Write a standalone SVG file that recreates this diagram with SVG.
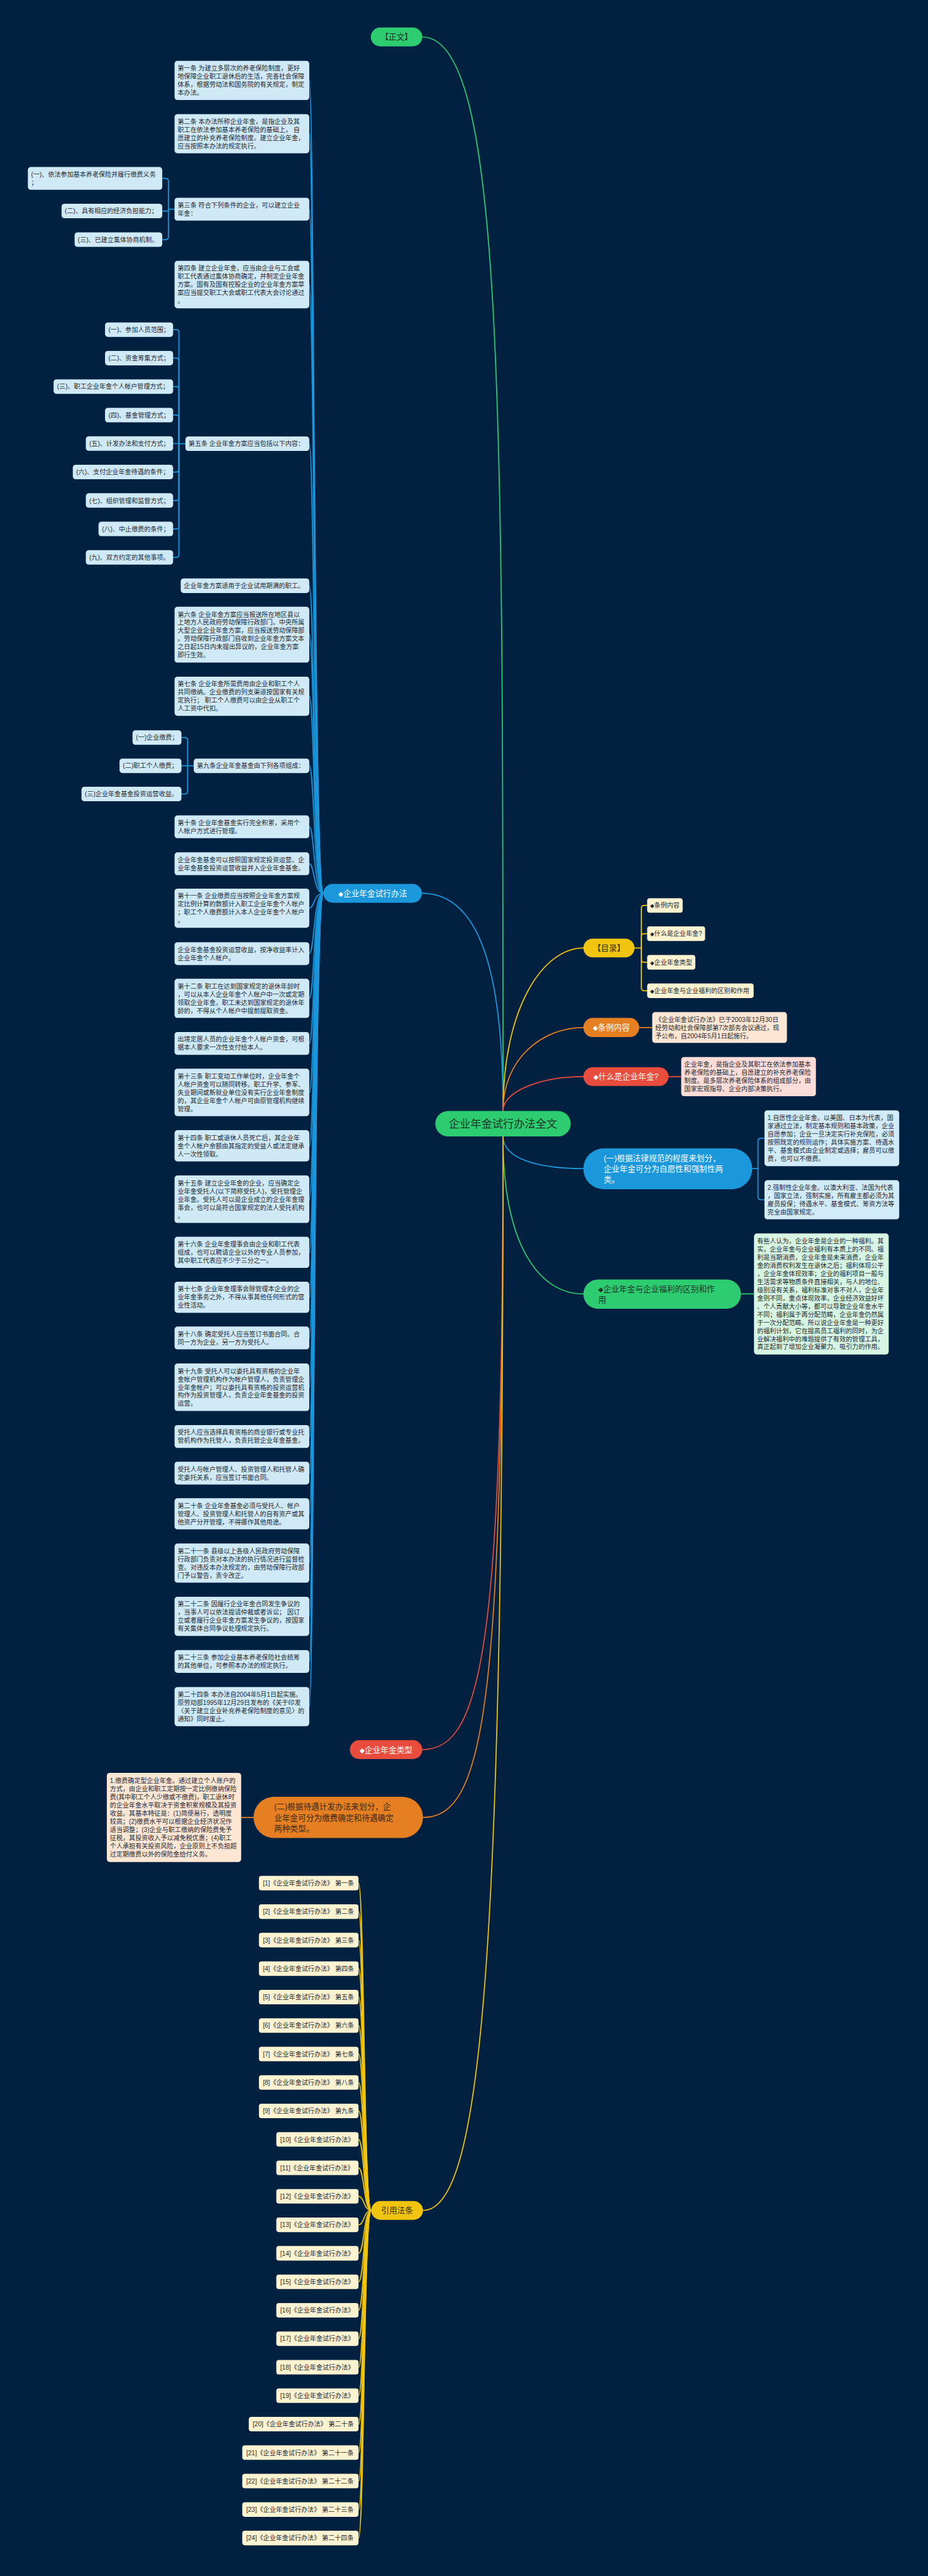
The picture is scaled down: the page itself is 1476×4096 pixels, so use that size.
<svg xmlns="http://www.w3.org/2000/svg" width="1476" height="4096" viewBox="0 0 1476 4096">
<defs>
<style>
.t{font-family:'Liberation Sans','Noto Sans CJK SC',sans-serif;font-size:17.5px;fill:#1f2933}
.dm{font-family:'DejaVu Sans',sans-serif;font-size:15px}
.ab{fill:#cfe9f7}
.cr{fill:#fdf3d1}
.pe{fill:#fde6d3}
.pk{fill:#fbdcd8}
.lg{fill:#d6f5e3}
.lb{fill:#d2ebf9}
.pt{font-family:'Liberation Sans','Noto Sans CJK SC',sans-serif;font-size:22px}
.c{fill:none;stroke-width:3;stroke-linecap:round;stroke-linejoin:round}
.cb{stroke:#1b97dc}
.cy{stroke:#f1c40f}
.co{stroke:#e67e22}
.cre{stroke:#e74c3c}
.cg{stroke:#2ecc71}
</style>
</defs>
<rect x="0" y="0" width="1476" height="4096" fill="#022140"/>
<g transform="scale(0.576)">

<g id="connectors">
<!-- main branches -->
<path class="c cg" d="M1389,3067 C1389,1100 1389,102 1166,102"/>
<path class="c cb" d="M1389,3067 C1389,2700 1330,2466 1165,2466"/>
<path class="c cy" d="M1389,3067 C1389,2780 1500,2617 1611,2617"/>
<path class="c co" d="M1389,3067 C1389,2920 1500,2836.5 1611,2836.5"/>
<path class="c cre" d="M1389,3067 C1389,3010 1500,2972 1611,2972"/>
<path class="c cb" d="M1389,3137 C1389,3200 1490,3226 1611,3226"/>
<path class="c cg" d="M1389,3137 C1389,3440 1490,3572 1611,3572"/>
<path class="c cre" d="M1389,3137 C1389,4550 1330,4830 1166,4830"/>
<path class="c co" d="M1389,3137 C1389,4700 1340,5017 1168,5017"/>
<path class="c cy" d="M1389,3137 C1389,5400 1330,6102 1168,6102"/>
<!-- left article connectors -->
<g class="c cb">
<path d="M893,2466 C866,2466 868,222 854,222"/>
<path d="M893,2466 C866,2466 868,369 854,369"/>
<path d="M893,2466 C866,2466 868,577.5 854,577.5"/>
<path d="M893,2466 C866,2466 868,785.5 854,785.5"/>
<path d="M893,2466 C866,2466 868,1225 854,1225"/>
<path d="M893,2466 C866,2466 868,1617 854,1617"/>
<path d="M893,2466 C866,2466 868,1752 854,1752"/>
<path d="M893,2466 C866,2466 868,1922 854,1922"/>
<path d="M893,2466 C866,2466 868,2114 854,2114"/>
<path d="M893,2466 C866,2466 868,2282.5 854,2282.5"/>
<path d="M893,2466 C866,2466 868,2384.5 854,2384.5"/>
<path d="M893,2466 C866,2466 868,2507 854,2507"/>
<path d="M893,2466 C866,2466 868,2632.5 854,2632.5"/>
<path d="M893,2466 C866,2466 868,2756 854,2756"/>
<path d="M893,2466 C866,2466 868,2880.5 854,2880.5"/>
<path d="M893,2466 C866,2466 868,3015.5 854,3015.5"/>
<path d="M893,2466 C866,2466 868,3163 854,3163"/>
<path d="M893,2466 C866,2466 868,3310.5 854,3310.5"/>
<path d="M893,2466 C866,2466 868,3457 854,3457"/>
<path d="M893,2466 C866,2466 868,3581 854,3581"/>
<path d="M893,2466 C866,2466 868,3693.5 854,3693.5"/>
<path d="M893,2466 C866,2466 868,3829.5 854,3829.5"/>
<path d="M893,2466 C866,2466 868,3965.5 854,3965.5"/>
<path d="M893,2466 C866,2466 868,4066.5 854,4066.5"/>
<path d="M893,2466 C866,2466 868,4179 854,4179"/>
<path d="M893,2466 C866,2466 868,4315 854,4315"/>
<path d="M893,2466 C866,2466 868,4462 854,4462"/>
<path d="M893,2466 C866,2466 868,4586.5 854,4586.5"/>
<path d="M893,2466 C866,2466 868,4711 854,4711"/>
<!-- article 3 bracket -->
<path d="M482,577.5 H465 V500.5 Q465,492.5 457,492.5 H448"/>
<path d="M465,577.5 V582.5 H448"/>
<path d="M465,577.5 V653.5 Q465,661.5 457,661.5 H448"/>
<!-- article 5 bracket -->
<path d="M512,1225 H494"/>
<path d="M494,1225 V918 Q494,910 486,910 H478"/>
<path d="M494,1225 V996.6 Q494,988.6 486,988.6 H478"/>
<path d="M494,1225 V1075.2 Q494,1067.2 486,1067.2 H478"/>
<path d="M494,1225 V1153.8 Q494,1145.8 486,1145.8 H478"/>
<path d="M494,1225 V1224.4 H478"/>
<path d="M494,1225 V1295 Q494,1303 486,1303 H478"/>
<path d="M494,1225 V1373.6 Q494,1381.6 486,1381.6 H478"/>
<path d="M494,1225 V1452.2 Q494,1460.2 486,1460.2 H478"/>
<path d="M494,1225 V1530.8 Q494,1538.8 486,1538.8 H478"/>
<!-- article 9 bracket -->
<path d="M535,2114 H501"/>
<path d="M518,2114 V2044 Q518,2036 510,2036 H501"/>
<path d="M518,2114 V2184 Q518,2192 510,2192 H501"/>
<!-- (一) blue bracket -->
<path d="M2077,3226 H2093 V3150 Q2093,3142 2101,3142 H2111"/>
<path d="M2093,3226 V3304 Q2093,3312 2101,3312 H2111"/>
</g>
<g class="c cy">
<path d="M1752,2617 H1771 V2507.5 Q1771,2499.5 1779,2499.5 H1787"/>
<path d="M1771,2617 V2585.5 Q1771,2577.5 1779,2577.5 H1787"/>
<path d="M1771,2617 V2648.5 Q1771,2656.5 1779,2656.5 H1787"/>
<path d="M1771,2617 V2727 Q1771,2735 1779,2735 H1787"/>
</g>
<path class="c co" d="M1765,2836.5 H1801"/>
<path class="c cre" d="M1846,2972 H1881"/>
<path class="c cg" d="M2046,3572 H2082"/>
<path class="c co" d="M700,5017 H666"/>
<!-- references -->
<g class="c cy">
<path d="M1025,6102 C1004,6102 1006,5198.5 990,5198.5"/>
<path d="M1025,6102 C1004,6102 1006,5277.1 990,5277.1"/>
<path d="M1025,6102 C1004,6102 1006,5355.7 990,5355.7"/>
<path d="M1025,6102 C1004,6102 1006,5434.3 990,5434.3"/>
<path d="M1025,6102 C1004,6102 1006,5512.9 990,5512.9"/>
<path d="M1025,6102 C1004,6102 1006,5591.5 990,5591.5"/>
<path d="M1025,6102 C1004,6102 1006,5670.1 990,5670.1"/>
<path d="M1025,6102 C1004,6102 1006,5748.7 990,5748.7"/>
<path d="M1025,6102 C1004,6102 1006,5827.3 990,5827.3"/>
<path d="M1025,6102 C1004,6102 1006,5905.9 990,5905.9"/>
<path d="M1025,6102 C1004,6102 1006,5984.5 990,5984.5"/>
<path d="M1025,6102 C1004,6102 1006,6063.1 990,6063.1"/>
<path d="M1025,6102 C1004,6102 1006,6141.7 990,6141.7"/>
<path d="M1025,6102 C1004,6102 1006,6220.3 990,6220.3"/>
<path d="M1025,6102 C1004,6102 1006,6298.9 990,6298.9"/>
<path d="M1025,6102 C1004,6102 1006,6377.5 990,6377.5"/>
<path d="M1025,6102 C1004,6102 1006,6456.1 990,6456.1"/>
<path d="M1025,6102 C1004,6102 1006,6534.7 990,6534.7"/>
<path d="M1025,6102 C1004,6102 1006,6613.3 990,6613.3"/>
<path d="M1025,6102 C1004,6102 1006,6691.9 990,6691.9"/>
<path d="M1025,6102 C1004,6102 1006,6770.5 990,6770.5"/>
<path d="M1025,6102 C1004,6102 1006,6849.1 990,6849.1"/>
<path d="M1025,6102 C1004,6102 1006,6927.7 990,6927.7"/>
<path d="M1025,6102 C1004,6102 1006,7006.3 990,7006.3"/>
</g>
</g>

<!-- center -->
<g id="n-root"><rect x="1202" y="3067" width="374" height="70" rx="35" fill="#2ecc71"/><text class="pt" x="1389" y="3113" text-anchor="middle" style="font-size:30px" fill="#1b3324">企业年金试行办法全文</text></g>

<!-- level 1 -->
<g id="n-zhengwen"><rect x="1024" y="76" width="142" height="52" rx="26" fill="#2ecc71"/><text class="pt" x="1095" y="110" text-anchor="middle" fill="#1b3324">【正文】</text></g>
<g id="n-banfa"><rect x="893" y="2440" width="272" height="52" rx="26" fill="#1b97dc"/><text class="pt" x="1029" y="2474" text-anchor="middle" fill="#ffffff"><tspan class="dm" style="font-size:18px">◆</tspan>企业年金试行办法</text></g>
<g id="n-mulu"><rect x="1611" y="2591" width="141" height="52" rx="26" fill="#f1c40f"/><text class="pt" x="1681.5" y="2625" text-anchor="middle" fill="#3b2f06">【目录】</text></g>
<g id="n-tiaoli"><rect x="1611" y="2810" width="154" height="53" rx="26" fill="#e67e22"/><text class="pt" x="1688" y="2844.5" text-anchor="middle" fill="#ffffff"><tspan class="dm" style="font-size:18px">◆</tspan>条例内容</text></g>
<g id="n-shenme"><rect x="1611" y="2946" width="235" height="52" rx="26" fill="#e74c3c"/><text class="pt" x="1728.5" y="2980" text-anchor="middle" fill="#ffffff"><tspan class="dm" style="font-size:18px">◆</tspan>什么是企业年金?</text></g>
<g id="n-falv"><rect x="1611" y="3170" width="466" height="113" rx="56" fill="#1b97dc"/><text class="pt" fill="#ffffff"><tspan x="1667" y="3205">(一)根据法律规范的程度来划分，</tspan><tspan x="1667" y="3234.5">企业年金可分为自愿性和强制性两</tspan><tspan x="1667" y="3264">类。</tspan></text></g>
<g id="n-fuli"><rect x="1611" y="3532" width="435" height="81" rx="40" fill="#2ecc71"/><text class="pt" fill="#1b3324"><tspan x="1652" y="3566"><tspan class="dm" style="font-size:18px">◆</tspan>企业年金与企业福利的区别和作</tspan><tspan x="1652" y="3595.5">用</tspan></text></g>
<g id="n-leixing"><rect x="966" y="4804" width="200" height="52" rx="26" fill="#e74c3c"/><text class="pt" x="1066" y="4838" text-anchor="middle" fill="#ffffff"><tspan class="dm" style="font-size:18px">◆</tspan>企业年金类型</text></g>
<g id="n-daiyu"><rect x="700" y="4960" width="468" height="114" rx="57" fill="#e67e22"/><text class="pt" fill="#3a2a1a"><tspan x="757" y="4995.5">(二)根据待遇计发办法来划分，企</tspan><tspan x="757" y="5025.5">业年金可分为缴费确定和待遇确定</tspan><tspan x="757" y="5055.5">两种类型。</tspan></text></g>
<g id="n-yinyong"><rect x="1025" y="6076" width="143" height="52" rx="26" fill="#f1c40f"/><text class="pt" x="1096.5" y="6110" text-anchor="middle" fill="#3b2f06">引用法条</text></g>

<!-- articles -->
<g id="n-a1"><rect class="ab" x="482" y="168" width="372" height="108" rx="8"/><text class="t"><tspan x="490.5" y="194.8">第一条 为建立多层次的养老保险制度，更好</tspan><tspan x="490.5" y="217.3">地保障企业职工退休后的生活，完善社会保障</tspan><tspan x="490.5" y="239.8">体系，根据劳动法和国务院的有关规定，制定</tspan><tspan x="490.5" y="262.3">本办法。</tspan></text></g>
<g id="n-a2"><rect class="ab" x="482" y="315" width="372" height="108" rx="8"/><text class="t"><tspan x="490.5" y="341.8">第二条 本办法所称企业年金，是指企业及其</tspan><tspan x="490.5" y="364.3">职工在依法参加基本养老保险的基础上， 自</tspan><tspan x="490.5" y="386.8">愿建立的补充养老保险制度。建立企业年金，</tspan><tspan x="490.5" y="409.3">应当按照本办法的规定执行。</tspan></text></g>
<g id="n-a3"><rect class="ab" x="482" y="546" width="372" height="63" rx="8"/><text class="t"><tspan x="490.5" y="572.8">第三条 符合下列条件的企业，可以建立企业</tspan><tspan x="490.5" y="595.3">年金：</tspan></text></g>
<g id="n-a3-1"><rect class="ab" x="77" y="461" width="371" height="63" rx="8"/><text class="t"><tspan x="86" y="487.8">(一)、依法参加基本养老保险并履行缴费义务</tspan><tspan x="86" y="510.3">；</tspan></text></g>
<g id="n-a3-2"><rect class="ab" x="170" y="562.5" width="278" height="40" rx="8"/><text class="t" x="179" y="589">(二)、具有相应的经济负担能力；</text></g>
<g id="n-a3-3"><rect class="ab" x="206" y="641.5" width="242" height="40" rx="8"/><text class="t" x="215" y="668">(三)、已建立集体协商机制。</text></g>
<g id="n-a4"><rect class="ab" x="482" y="720" width="372" height="131" rx="8"/><text class="t"><tspan x="490.5" y="747">第四条 建立企业年金，应当由企业与工会或</tspan><tspan x="490.5" y="769.5">职工代表通过集体协商确定，并制定企业年金</tspan><tspan x="490.5" y="792">方案。国有及国有控股企业的企业年金方案草</tspan><tspan x="490.5" y="814.5">案应当提交职工大会或职工代表大会讨论通过</tspan><tspan x="490.5" y="837">。</tspan></text></g>
<g id="n-a5"><rect class="ab" x="512" y="1205" width="342" height="40" rx="8"/><text class="t" x="520.5" y="1231.5">第五条 企业年金方案应当包括以下内容：</text></g>
<g id="n-a5-1"><rect class="ab" x="290" y="890" width="188" height="40" rx="8"/><text class="t" x="299.5" y="916.5">(一)、参加人员范围；</text></g>
<g id="n-a5-2"><rect class="ab" x="290" y="968.6" width="188" height="40" rx="8"/><text class="t" x="299.5" y="995.1">(二)、资金筹集方式；</text></g>
<g id="n-a5-3"><rect class="ab" x="148" y="1047.2" width="330" height="40" rx="8"/><text class="t" x="157.5" y="1073.7">(三)、职工企业年金个人帐户管理方式；</text></g>
<g id="n-a5-4"><rect class="ab" x="290" y="1125.8" width="188" height="40" rx="8"/><text class="t" x="299.5" y="1152.3">(四)、基金管理方式；</text></g>
<g id="n-a5-5"><rect class="ab" x="237" y="1204.4" width="241" height="40" rx="8"/><text class="t" x="246.5" y="1230.9">(五)、计发办法和支付方式；</text></g>
<g id="n-a5-6"><rect class="ab" x="201" y="1283" width="277" height="40" rx="8"/><text class="t" x="210.5" y="1309.5">(六)、支付企业年金待遇的条件；</text></g>
<g id="n-a5-7"><rect class="ab" x="237" y="1361.6" width="241" height="40" rx="8"/><text class="t" x="246.5" y="1388.1">(七)、组织管理和监督方式；</text></g>
<g id="n-a5-8"><rect class="ab" x="272" y="1440.2" width="206" height="40" rx="8"/><text class="t" x="281.5" y="1466.7">(八)、中止缴费的条件；</text></g>
<g id="n-a5-9"><rect class="ab" x="237" y="1518.8" width="241" height="40" rx="8"/><text class="t" x="246.5" y="1545.3">(九)、双方约定的其他事项。</text></g>
<g id="n-a5b"><rect class="ab" x="499" y="1597" width="355" height="40" rx="8"/><text class="t" x="507.5" y="1623.5">企业年金方案适用于企业试用期满的职工。</text></g>
<g id="n-a6"><rect class="ab" x="482" y="1675" width="372" height="154" rx="8"/><text class="t"><tspan x="490.5" y="1702.3">第六条 企业年金方案应当报送所在地区县以</tspan><tspan x="490.5" y="1724.8">上地方人民政府劳动保障行政部门。中央所属</tspan><tspan x="490.5" y="1747.3">大型企业企业年金方案，应当报送劳动保障部</tspan><tspan x="490.5" y="1769.8">。劳动保障行政部门自收到企业年金方案文本</tspan><tspan x="490.5" y="1792.3">之日起15日内未提出异议的，企业年金方案</tspan><tspan x="490.5" y="1814.8">即行生效。</tspan></text></g>
<g id="n-a7"><rect class="ab" x="482" y="1868" width="372" height="108" rx="8"/><text class="t"><tspan x="490.5" y="1894.8">第七条 企业年金所需费用由企业和职工个人</tspan><tspan x="490.5" y="1917.3">共同缴纳。企业缴费的列支渠道按国家有关规</tspan><tspan x="490.5" y="1939.8">定执行； 职工个人缴费可以由企业从职工个</tspan><tspan x="490.5" y="1962.3">人工资中代扣。</tspan></text></g>
<g id="n-a9"><rect class="ab" x="535" y="2094" width="319" height="40" rx="8"/><text class="t" x="543.5" y="2120.5">第九条企业年金基金由下列各项组成：</text></g>
<g id="n-a9-1"><rect class="ab" x="366" y="2016" width="135" height="40" rx="8"/><text class="t" x="375.5" y="2042.5">(一)企业缴费；</text></g>
<g id="n-a9-2"><rect class="ab" x="330" y="2094" width="171" height="40" rx="8"/><text class="t" x="339.5" y="2120.5">(二)职工个人缴费；</text></g>
<g id="n-a9-3"><rect class="ab" x="225" y="2172" width="276" height="40" rx="8"/><text class="t" x="234.5" y="2198.5">(三)企业年金基金投资运营收益。</text></g>
<g id="n-a10"><rect class="ab" x="482" y="2251" width="372" height="63" rx="8"/><text class="t"><tspan x="490.5" y="2277.8">第十条 企业年金基金实行完全积累，采用个</tspan><tspan x="490.5" y="2300.3">人帐户方式进行管理。</tspan></text></g>
<g id="n-a10b"><rect class="ab" x="482" y="2353" width="372" height="63" rx="8"/><text class="t"><tspan x="490.5" y="2379.8">企业年金基金可以按照国家规定投资运营。企</tspan><tspan x="490.5" y="2402.3">业年金基金投资运营收益并入企业年金基金。</tspan></text></g>
<g id="n-a11"><rect class="ab" x="482" y="2453" width="372" height="108" rx="8"/><text class="t"><tspan x="490.5" y="2479.8">第十一条 企业缴费应当按照企业年金方案规</tspan><tspan x="490.5" y="2502.3">定比例计算的数额计入职工企业年金个人帐户</tspan><tspan x="490.5" y="2524.8">；职工个人缴费额计入本人企业年金个人帐户</tspan><tspan x="490.5" y="2547.3">。</tspan></text></g>
<g id="n-a11b"><rect class="ab" x="482" y="2601" width="372" height="63" rx="8"/><text class="t"><tspan x="490.5" y="2627.8">企业年金基金投资运营收益，按净收益率计入</tspan><tspan x="490.5" y="2650.3">企业年金个人帐户。</tspan></text></g>
<g id="n-a12"><rect class="ab" x="482" y="2702" width="372" height="108" rx="8"/><text class="t"><tspan x="490.5" y="2728.8">第十二条 职工在达到国家规定的退休年龄时</tspan><tspan x="490.5" y="2751.3">，可以从本人企业年金个人帐户中一次或定期</tspan><tspan x="490.5" y="2773.8">领取企业年金。职工未达到国家规定的退休年</tspan><tspan x="490.5" y="2796.3">龄的，不得从个人帐户中提前提取资金。</tspan></text></g>
<g id="n-a12b"><rect class="ab" x="482" y="2849" width="372" height="63" rx="8"/><text class="t"><tspan x="490.5" y="2875.8">出境定居人员的企业年金个人帐户资金，可根</tspan><tspan x="490.5" y="2898.3">据本人要求一次性支付给本人。</tspan></text></g>
<g id="n-a13"><rect class="ab" x="482" y="2950" width="372" height="131" rx="8"/><text class="t"><tspan x="490.5" y="2977">第十三条 职工变动工作单位时，企业年金个</tspan><tspan x="490.5" y="2999.5">人帐户资金可以随同转移。职工升学、参军、</tspan><tspan x="490.5" y="3022">失业期间或新就业单位没有实行企业年金制度</tspan><tspan x="490.5" y="3044.5">的，其企业年金个人帐户可由原管理机构继续</tspan><tspan x="490.5" y="3067">管理。</tspan></text></g>
<g id="n-a14"><rect class="ab" x="482" y="3120" width="372" height="86" rx="8"/><text class="t"><tspan x="490.5" y="3147">第十四条 职工或退休人员死亡后，其企业年</tspan><tspan x="490.5" y="3169.5">金个人帐户余额由其指定的受益人或法定继承</tspan><tspan x="490.5" y="3192">人一次性领取。</tspan></text></g>
<g id="n-a15"><rect class="ab" x="482" y="3245" width="372" height="131" rx="8"/><text class="t"><tspan x="490.5" y="3272">第十五条 建立企业年金的企业，应当确定企</tspan><tspan x="490.5" y="3294.5">业年金受托人(以下简称受托人)，受托管理企</tspan><tspan x="490.5" y="3317">业年金。受托人可以是企业成立的企业年金理</tspan><tspan x="490.5" y="3339.5">事会，也可以是符合国家规定的法人受托机构</tspan><tspan x="490.5" y="3362">。</tspan></text></g>
<g id="n-a16"><rect class="ab" x="482" y="3414" width="372" height="86" rx="8"/><text class="t"><tspan x="490.5" y="3441">第十六条 企业年金理事会由企业和职工代表</tspan><tspan x="490.5" y="3463.5">组成，也可以聘请企业以外的专业人员参加，</tspan><tspan x="490.5" y="3486">其中职工代表应不少于三分之一。</tspan></text></g>
<g id="n-a17"><rect class="ab" x="482" y="3538" width="372" height="86" rx="8"/><text class="t"><tspan x="490.5" y="3565">第十七条 企业年金理事会除管理本企业的企</tspan><tspan x="490.5" y="3587.5">业年金事务之外，不得从事其他任何形式的营</tspan><tspan x="490.5" y="3610">业性活动。</tspan></text></g>
<g id="n-a18"><rect class="ab" x="482" y="3662" width="372" height="63" rx="8"/><text class="t"><tspan x="490.5" y="3688.8">第十八条 确定受托人应当签订书面合同。合</tspan><tspan x="490.5" y="3711.3">同一方为企业，另一方为受托人。</tspan></text></g>
<g id="n-a19"><rect class="ab" x="482" y="3764" width="372" height="131" rx="8"/><text class="t"><tspan x="490.5" y="3791">第十九条 受托人可以委托具有资格的企业年</tspan><tspan x="490.5" y="3813.5">金帐户管理机构作为帐户管理人，负责管理企</tspan><tspan x="490.5" y="3836">业年金帐户；可以委托具有资格的投资运营机</tspan><tspan x="490.5" y="3858.5">构作为投资管理人，负责企业年金基金的投资</tspan><tspan x="490.5" y="3881">运营。</tspan></text></g>
<g id="n-a19b"><rect class="ab" x="482" y="3934" width="372" height="63" rx="8"/><text class="t"><tspan x="490.5" y="3960.8">受托人应当选择具有资格的商业银行或专业托</tspan><tspan x="490.5" y="3983.3">管机构作为托管人，负责托管企业年金基金。</tspan></text></g>
<g id="n-a19c"><rect class="ab" x="482" y="4035" width="372" height="63" rx="8"/><text class="t"><tspan x="490.5" y="4061.8">受托人与帐户管理人、投资管理人和托管人确</tspan><tspan x="490.5" y="4084.3">定委托关系，应当签订书面合同。</tspan></text></g>
<g id="n-a20"><rect class="ab" x="482" y="4136" width="372" height="86" rx="8"/><text class="t"><tspan x="490.5" y="4163">第二十条 企业年金基金必须与受托人、帐户</tspan><tspan x="490.5" y="4185.5">管理人、投资管理人和托管人的自有资产或其</tspan><tspan x="490.5" y="4208">他资产分开管理，不得挪作其他用途。</tspan></text></g>
<g id="n-a21"><rect class="ab" x="482" y="4261" width="372" height="108" rx="8"/><text class="t"><tspan x="490.5" y="4287.8">第二十一条 县级以上各级人民政府劳动保障</tspan><tspan x="490.5" y="4310.3">行政部门负责对本办法的执行情况进行监督检</tspan><tspan x="490.5" y="4332.8">查。对违反本办法规定的，由劳动保障行政部</tspan><tspan x="490.5" y="4355.3">门予以警告，责令改正。</tspan></text></g>
<g id="n-a22"><rect class="ab" x="482" y="4408" width="372" height="108" rx="8"/><text class="t"><tspan x="490.5" y="4434.8">第二十二条 因履行企业年金合同发生争议的</tspan><tspan x="490.5" y="4457.3">，当事人可以依法提请仲裁或者诉讼； 因订</tspan><tspan x="490.5" y="4479.8">立或者履行企业年金方案发生争议的，按国家</tspan><tspan x="490.5" y="4502.3">有关集体合同争议处理规定执行。</tspan></text></g>
<g id="n-a23"><rect class="ab" x="482" y="4555" width="372" height="63" rx="8"/><text class="t"><tspan x="490.5" y="4581.8">第二十三条 参加企业基本养老保险社会统筹</tspan><tspan x="490.5" y="4604.3">的其他单位，可参照本办法的规定执行。</tspan></text></g>
<g id="n-a24"><rect class="ab" x="482" y="4657" width="372" height="108" rx="8"/><text class="t"><tspan x="490.5" y="4683.8">第二十四条 本办法自2004年5月1日起实施。</tspan><tspan x="490.5" y="4706.3">原劳动部1995年12月29日发布的《关于印发</tspan><tspan x="490.5" y="4728.8">〈关于建立企业补充养老保险制度的意见〉的</tspan><tspan x="490.5" y="4751.3">通知》同时废止。</tspan></text></g>

<!-- 目录 children -->
<g id="n-m1"><rect class="cr" x="1787" y="2479.5" width="98" height="40" rx="7"/><text class="t" x="1795" y="2506" fill="#4d3a0a"><tspan class="dm">◆</tspan>条例内容</text></g>
<g id="n-m2"><rect class="cr" x="1787" y="2557.5" width="160" height="40" rx="7"/><text class="t" x="1795" y="2584" fill="#4d3a0a"><tspan class="dm">◆</tspan>什么是企业年金?</text></g>
<g id="n-m3"><rect class="cr" x="1787" y="2636.5" width="133" height="40" rx="7"/><text class="t" x="1795" y="2663" fill="#4d3a0a"><tspan class="dm">◆</tspan>企业年金类型</text></g>
<g id="n-m4"><rect class="cr" x="1787" y="2715" width="294" height="40" rx="7"/><text class="t" x="1795" y="2741.5" fill="#4d3a0a"><tspan class="dm">◆</tspan>企业年金与企业福利的区别和作用</text></g>

<g id="n-tiaoli-c"><rect class="pe" x="1801" y="2794" width="372" height="85" rx="8"/><text class="t" fill="#3a2414"><tspan x="1809.5" y="2820.5">《企业年金试行办法》已于2003年12月30日</tspan><tspan x="1809.5" y="2843">经劳动和社会保障部第7次部务会议通过，现</tspan><tspan x="1809.5" y="2865.5">予公布，自2004年5月1日起施行。</tspan></text></g>
<g id="n-shenme-c"><rect class="pk" x="1881" y="2918" width="372" height="108" rx="8"/><text class="t" fill="#6e2018"><tspan x="1889.5" y="2944.8">企业年金，是指企业及其职工在依法参加基本</tspan><tspan x="1889.5" y="2967.3">养老保险的基础上，自愿建立的补充养老保险</tspan><tspan x="1889.5" y="2989.8">制度。是多层次养老保险体系的组成部分，由</tspan><tspan x="1889.5" y="3012.3">国家宏观指导、企业内部决策执行。</tspan></text></g>
<g id="n-falv-1"><rect class="lb" x="2111" y="3065" width="372" height="154" rx="8"/><text class="t" fill="#1b2b3a"><tspan x="2119.5" y="3092.3">1.自愿性企业年金。以美国、日本为代表，国</tspan><tspan x="2119.5" y="3114.8">家通过立法，制定基本规则和基本政策，企业</tspan><tspan x="2119.5" y="3137.3">自愿参加；企业一旦决定实行补充保险，必须</tspan><tspan x="2119.5" y="3159.8">按照既定的规则运作；具体实施方案、待遇水</tspan><tspan x="2119.5" y="3182.3">平、基金模式由企业制定或选择；雇员可以缴</tspan><tspan x="2119.5" y="3204.8">费，也可以不缴费。</tspan></text></g>
<g id="n-falv-2"><rect class="lb" x="2111" y="3258" width="372" height="108" rx="8"/><text class="t" fill="#1b2b3a"><tspan x="2119.5" y="3284.8">2.强制性企业年金。以澳大利亚、法国为代表</tspan><tspan x="2119.5" y="3307.3">，国家立法，强制实施，所有雇主都必须为其</tspan><tspan x="2119.5" y="3329.8">雇员投保；待遇水平、基金模式、筹资方法等</tspan><tspan x="2119.5" y="3352.3">完全由国家规定。</tspan></text></g>
<g id="n-fuli-c"><rect class="lg" x="2082" y="3405" width="372" height="334" rx="8"/><text class="t" fill="#17402a"><tspan x="2090.5" y="3432.3">有些人认为，企业年金是企业的一种福利。其</tspan><tspan x="2090.5" y="3454.8">实，企业年金与企业福利有本质上的不同。福</tspan><tspan x="2090.5" y="3477.3">利是当期消费，企业年金是未来消费，企业年</tspan><tspan x="2090.5" y="3499.8">金的消费权利发生在退休之后；福利体现公平</tspan><tspan x="2090.5" y="3522.3">，企业年金体现效率；企业的福利项目一般与</tspan><tspan x="2090.5" y="3544.8">生活需求等物质条件直接相关，与人的地位、</tspan><tspan x="2090.5" y="3567.3">级别没有关系，福利标准对事不对人，企业年</tspan><tspan x="2090.5" y="3589.8">金则不同，重点体现效率，企业经济效益好坏</tspan><tspan x="2090.5" y="3612.3">、个人贡献大小等，都可以导致企业年金水平</tspan><tspan x="2090.5" y="3634.8">不同；福利属于再分配范畴，企业年金仍然属</tspan><tspan x="2090.5" y="3657.3">于一次分配范畴。所以说企业年金是一种更好</tspan><tspan x="2090.5" y="3679.8">的福利计划，它在提高员工福利的同时，为企</tspan><tspan x="2090.5" y="3702.3">业解决福利中的难题提供了有效的管理工具，</tspan><tspan x="2090.5" y="3724.8">真正起到了增加企业凝聚力、吸引力的作用。</tspan></text></g>
<g id="n-daiyu-c"><rect class="pe" x="295" y="4894" width="371" height="246" rx="8"/><text class="t" fill="#3a2414"><tspan x="303.5" y="4922.3">1.缴费确定型企业年金。通过建立个人账户的</tspan><tspan x="303.5" y="4944.8">方式，由企业和职工定期按一定比例缴纳保险</tspan><tspan x="303.5" y="4967.3">费(其中职工个人少缴或不缴费)，职工退休时</tspan><tspan x="303.5" y="4989.8">的企业年金水平取决于资金积累规模及其投资</tspan><tspan x="303.5" y="5012.3">收益。其基本特征是：(1)简便易行，透明度</tspan><tspan x="303.5" y="5034.8">较高；(2)缴费水平可以根据企业经济状况作</tspan><tspan x="303.5" y="5057.3">适当调整；(3)企业与职工缴纳的保险费免予</tspan><tspan x="303.5" y="5079.8">征税，其投资收入予以减免税优惠；(4)职工</tspan><tspan x="303.5" y="5102.3">个人承担有关投资风险，企业原则上不负担超</tspan><tspan x="303.5" y="5124.8">过定期缴费以外的保险金给付义务。</tspan></text></g>

<!-- references -->
<g id="n-r1"><rect class="cr" x="715" y="5178.5" width="275" height="40" rx="7"/><text class="t" x="726" y="5205" fill="#3d3322">[1]《企业年金试行办法》 第一条</text></g>
<g id="n-r2"><rect class="cr" x="715" y="5257.1" width="275" height="40" rx="7"/><text class="t" x="726" y="5283.6" fill="#3d3322">[2]《企业年金试行办法》 第二条</text></g>
<g id="n-r3"><rect class="cr" x="715" y="5335.7" width="275" height="40" rx="7"/><text class="t" x="726" y="5362.2" fill="#3d3322">[3]《企业年金试行办法》 第三条</text></g>
<g id="n-r4"><rect class="cr" x="715" y="5414.3" width="275" height="40" rx="7"/><text class="t" x="726" y="5440.8" fill="#3d3322">[4]《企业年金试行办法》 第四条</text></g>
<g id="n-r5"><rect class="cr" x="715" y="5492.9" width="275" height="40" rx="7"/><text class="t" x="726" y="5519.4" fill="#3d3322">[5]《企业年金试行办法》 第五条</text></g>
<g id="n-r6"><rect class="cr" x="715" y="5571.5" width="275" height="40" rx="7"/><text class="t" x="726" y="5598" fill="#3d3322">[6]《企业年金试行办法》 第六条</text></g>
<g id="n-r7"><rect class="cr" x="715" y="5650.1" width="275" height="40" rx="7"/><text class="t" x="726" y="5676.6" fill="#3d3322">[7]《企业年金试行办法》 第七条</text></g>
<g id="n-r8"><rect class="cr" x="715" y="5728.7" width="275" height="40" rx="7"/><text class="t" x="726" y="5755.2" fill="#3d3322">[8]《企业年金试行办法》 第八条</text></g>
<g id="n-r9"><rect class="cr" x="715" y="5807.3" width="275" height="40" rx="7"/><text class="t" x="726" y="5833.8" fill="#3d3322">[9]《企业年金试行办法》 第九条</text></g>
<g id="n-r10"><rect class="cr" x="763" y="5885.9" width="227" height="40" rx="7"/><text class="t" x="774" y="5912.4" fill="#3d3322">[10]《企业年金试行办法》</text></g>
<g id="n-r11"><rect class="cr" x="763" y="5964.5" width="227" height="40" rx="7"/><text class="t" x="774" y="5991" fill="#3d3322">[11]《企业年金试行办法》</text></g>
<g id="n-r12"><rect class="cr" x="763" y="6043.1" width="227" height="40" rx="7"/><text class="t" x="774" y="6069.6" fill="#3d3322">[12]《企业年金试行办法》</text></g>
<g id="n-r13"><rect class="cr" x="763" y="6121.7" width="227" height="40" rx="7"/><text class="t" x="774" y="6148.2" fill="#3d3322">[13]《企业年金试行办法》</text></g>
<g id="n-r14"><rect class="cr" x="763" y="6200.3" width="227" height="40" rx="7"/><text class="t" x="774" y="6226.8" fill="#3d3322">[14]《企业年金试行办法》</text></g>
<g id="n-r15"><rect class="cr" x="763" y="6278.9" width="227" height="40" rx="7"/><text class="t" x="774" y="6305.4" fill="#3d3322">[15]《企业年金试行办法》</text></g>
<g id="n-r16"><rect class="cr" x="763" y="6357.5" width="227" height="40" rx="7"/><text class="t" x="774" y="6384" fill="#3d3322">[16]《企业年金试行办法》</text></g>
<g id="n-r17"><rect class="cr" x="763" y="6436.1" width="227" height="40" rx="7"/><text class="t" x="774" y="6462.6" fill="#3d3322">[17]《企业年金试行办法》</text></g>
<g id="n-r18"><rect class="cr" x="763" y="6514.7" width="227" height="40" rx="7"/><text class="t" x="774" y="6541.2" fill="#3d3322">[18]《企业年金试行办法》</text></g>
<g id="n-r19"><rect class="cr" x="763" y="6593.3" width="227" height="40" rx="7"/><text class="t" x="774" y="6619.8" fill="#3d3322">[19]《企业年金试行办法》</text></g>
<g id="n-r20"><rect class="cr" x="687" y="6671.9" width="303" height="40" rx="7"/><text class="t" x="698" y="6698.4" fill="#3d3322">[20]《企业年金试行办法》 第二十条</text></g>
<g id="n-r21"><rect class="cr" x="669" y="6750.5" width="321" height="40" rx="7"/><text class="t" x="680" y="6777" fill="#3d3322">[21]《企业年金试行办法》 第二十一条</text></g>
<g id="n-r22"><rect class="cr" x="669" y="6829.1" width="321" height="40" rx="7"/><text class="t" x="680" y="6855.6" fill="#3d3322">[22]《企业年金试行办法》 第二十二条</text></g>
<g id="n-r23"><rect class="cr" x="669" y="6907.7" width="321" height="40" rx="7"/><text class="t" x="680" y="6934.2" fill="#3d3322">[23]《企业年金试行办法》 第二十三条</text></g>
<g id="n-r24"><rect class="cr" x="669" y="6986.3" width="321" height="40" rx="7"/><text class="t" x="680" y="7012.8" fill="#3d3322">[24]《企业年金试行办法》 第二十四条</text></g>
</g>
</svg>
